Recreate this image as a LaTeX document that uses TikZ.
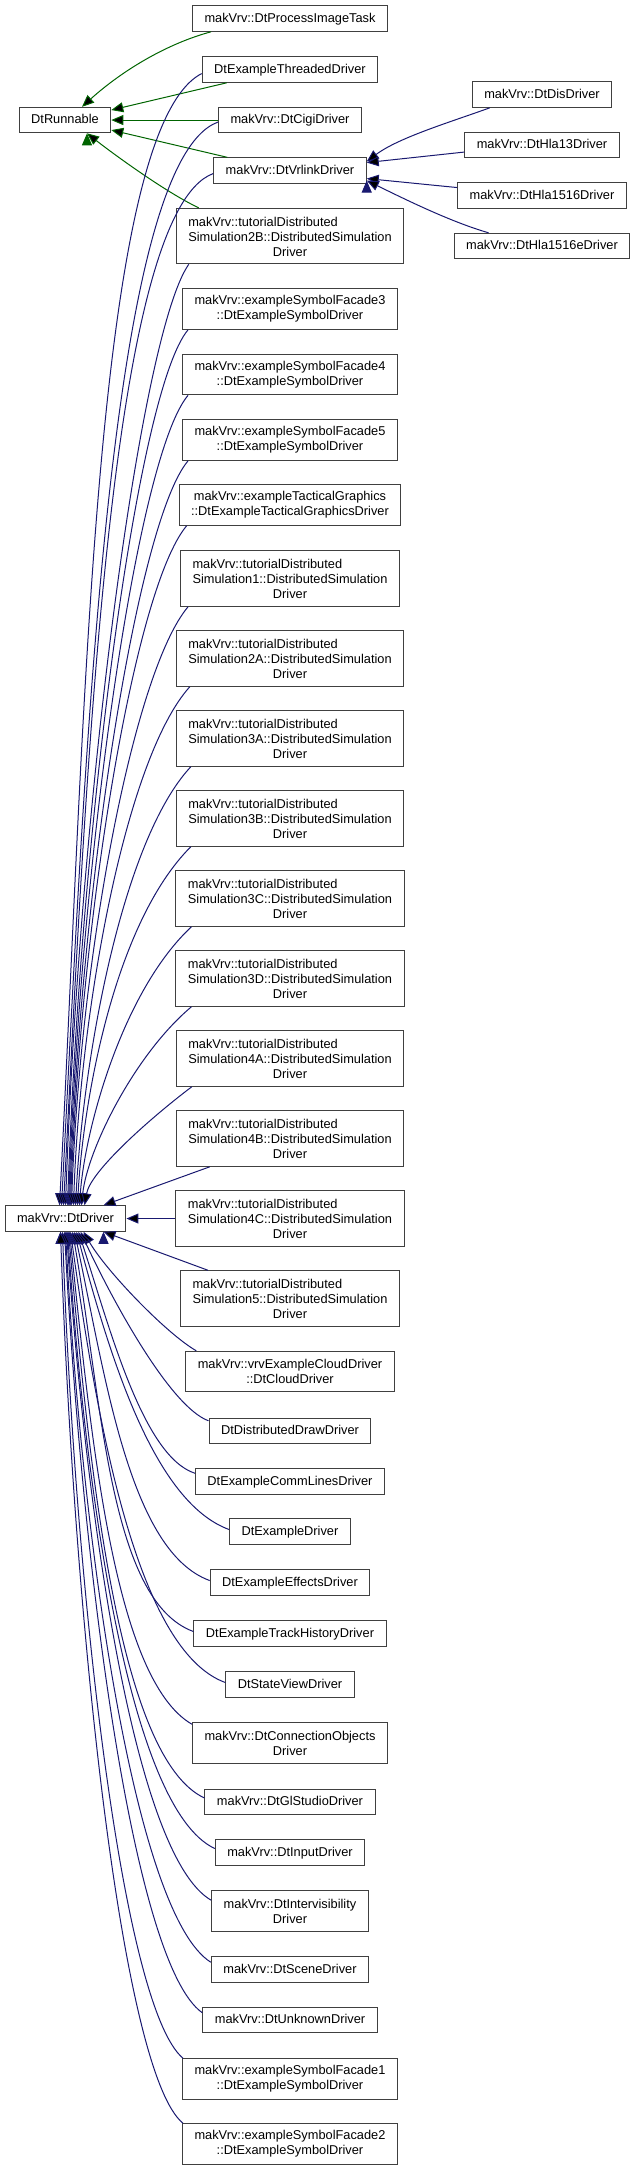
\documentclass[tikz,border=0pt]{standalone}
\usepackage{fontspec}
\setmainfont{Liberation Sans}
\usetikzlibrary{%
  arrows.meta
}
\newlength{\px}
\setlength{\px}{0.0625pt}
\definecolor{pubblue}{HTML}{191970}
\definecolor{protgreen}{HTML}{006400}
\tikzstyle{cls}=[rectangle,draw=black!75,line width=\px,fill=white,inner xsep=12\px,inner ysep=3\px,font=\fontsize{0.8pt}{0.9375pt}\selectfont]
\tikzstyle{one}=[cls,minimum height=25.5\px,text height=9.5\px,text depth=2.5\px]
\tikzstyle{two}=[cls,align=center,minimum height=40.5\px]
\tikzstyle{three}=[cls,align=center,minimum height=55.5\px]
\tikzstyle{pub}=[draw=pubblue,line width=\px,{Triangle[length=0.75pt,width=0.625pt]}-]
\tikzstyle{prot}=[draw=protgreen,line width=\px,{Triangle[length=0.75pt,width=0.625pt]}-]
\newcommand{\tutname}[1]{\begin{tabular}[b]{@{}l@{}}makVrv::tutorialDistributed\\Simulation#1::DistributedSimulation\end{tabular}\\Driver}

\begin{document}
\begin{tikzpicture}[x=\px,y=\px]
      \useasboundingbox (0,0) rectangle (632,-2169);
      % bases
      \node[one] (s_run) at (65,-120) {DtRunnable};
      \node[one] (s_drv) at (65.5,-1218.5) {makVrv::DtDriver};
      % vrlink branch
      \node[one] (s_dis) at (542,-94.5) {makVrv::DtDisDriver};
      \node[one] (s_h13) at (542,-145) {makVrv::DtHla13Driver};
      \node[one] (s_h16) at (542,-195.5) {makVrv::DtHla1516Driver};
      \node[one] (s_h16e) at (542,-246) {makVrv::DtHla1516eDriver};
      % middle column
      \node[one] (s_proc) at (290,-18.5) {makVrv::DtProcessImageTask};
      \node[one] (s_thr) at (290,-69.5) {DtExampleThreadedDriver};
      \node[one] (s_cigi) at (290,-120) {makVrv::DtCigiDriver};
      \node[one] (s_vrl) at (290,-170.5) {makVrv::DtVrlinkDriver};
      \node[three] (s_t2b) at (290,-236) {\tutname{2B}};
      \node[two] (s_f3) at (290,-309) {makVrv::exampleSymbolFacade3\\::DtExampleSymbolDriver};
      \node[two] (s_f4) at (290,-374.5) {makVrv::exampleSymbolFacade4\\::DtExampleSymbolDriver};
      \node[two] (s_f5) at (290,-440) {makVrv::exampleSymbolFacade5\\::DtExampleSymbolDriver};
      \node[two] (s_tac) at (290,-505) {makVrv::exampleTacticalGraphics\\::DtExampleTacticalGraphicsDriver};
      \node[three] (s_t1) at (290,-578.5) {\tutname{1}};
      \node[three] (s_t2a) at (290,-658.5) {\tutname{2A}};
      \node[three] (s_t3a) at (290,-738.5) {\tutname{3A}};
      \node[three] (s_t3b) at (290,-818.5) {\tutname{3B}};
      \node[three] (s_t3c) at (290,-898.5) {\tutname{3C}};
      \node[three] (s_t3d) at (290,-978.5) {\tutname{3D}};
      \node[three] (s_t4a) at (290,-1058.5) {\tutname{4A}};
      \node[three] (s_t4b) at (290,-1138.5) {\tutname{4B}};
      \node[three] (s_t4c) at (290,-1218.5) {\tutname{4C}};
      \node[three] (s_t5) at (290,-1298.5) {\tutname{5}};
      \node[two] (s_cld) at (290,-1371.5) {makVrv::vrvExampleCloudDriver\\::DtCloudDriver};
      \node[one] (s_ddr) at (290,-1431) {DtDistributedDrawDriver};
      \node[one] (s_com) at (290,-1481.5) {DtExampleCommLinesDriver};
      \node[one] (s_exd) at (290,-1531.5) {DtExampleDriver};
      \node[one] (s_eff) at (290,-1582.5) {DtExampleEffectsDriver};
      \node[one] (s_trk) at (290,-1633.5) {DtExampleTrackHistoryDriver};
      \node[one] (s_stv) at (290,-1684.5) {DtStateViewDriver};
      \node[two] (s_con) at (290,-1743) {makVrv::DtConnectionObjects\\Driver};
      \node[one] (s_gls) at (290,-1802) {makVrv::DtGlStudioDriver};
      \node[one] (s_inp) at (290,-1852.5) {makVrv::DtInputDriver};
      \node[two] (s_ivs) at (290,-1911) {makVrv::DtIntervisibility\\Driver};
      \node[one] (s_scn) at (290,-1969.5) {makVrv::DtSceneDriver};
      \node[one] (s_unk) at (290,-2020) {makVrv::DtUnknownDriver};
      \node[two] (s_f1) at (290,-2079) {makVrv::exampleSymbolFacade1\\::DtExampleSymbolDriver};
      \node[two] (s_f2) at (290,-2144) {makVrv::exampleSymbolFacade2\\::DtExampleSymbolDriver};
      % DtRunnable
      \path[prot]
        ([xshift=17\px]s_run.north) edge[out=42,in=195,out distance=55\px,in distance=45\px] ([xshift=19\px]s_proc.south west)
        ([yshift=10\px]s_run.east) edge ([xshift=25\px]s_thr.south west)
        (s_run.east) edge (s_cigi.west)
        ([yshift=-10\px]s_run.east) edge ([xshift=14\px]s_vrl.north west)
        ([xshift=22\px]s_run.south) edge[out=-38,in=155,out distance=35\px,in distance=35\px] ([xshift=23\px]s_t2b.north west);
      % DtVrlinkDriver
      \path[pub]
        ([yshift=9\px]s_vrl.east) edge[out=37,in=200,out distance=40\px,in distance=40\px] ([xshift=18\px]s_dis.south west)
        ([yshift=8\px]s_vrl.east) edge ([yshift=-7\px]s_h13.west)
        ([yshift=-8\px]s_vrl.east) edge ([yshift=8\px]s_h16.west)
        ([yshift=-10\px]s_vrl.east) edge[out=-26,in=164,out distance=40\px,in distance=40\px] ([xshift=35\px]s_h16e.north west);
      % DtDriver, from above
      \path[pub]
        ([xshift=-6\px]s_drv.north) edge[out=87,in=207,out distance=500\px,in distance=120\px] ([yshift=-4\px]s_thr.west)
        ([xshift=-4\px]s_drv.north) edge[out=87,in=200,out distance=470\px,in distance=115\px] ([yshift=-2\px]s_cigi.west)
        ([xshift=-2\px]s_drv.north) edge[out=87,in=200,out distance=440\px,in distance=110\px] ([yshift=-3\px]s_vrl.west)
        (s_drv.north) edge[out=88,in=-125,out distance=400\px,in distance=85\px] ([xshift=13\px]s_t2b.south west)
        ([xshift=2\px]s_drv.north) edge[out=88,in=-130,out distance=374\px,in distance=80\px] ([xshift=6\px]s_f3.south west)
        ([xshift=3\px]s_drv.north) edge[out=88,in=-130,out distance=345\px,in distance=80\px] ([xshift=6\px]s_f4.south west)
        ([xshift=4\px]s_drv.north) edge[out=88,in=-130,out distance=315\px,in distance=80\px] ([xshift=6\px]s_f5.south west)
        ([xshift=5\px]s_drv.north) edge[out=88,in=-130,out distance=285\px,in distance=82\px] ([xshift=8\px]s_tac.south west)
        ([xshift=6\px]s_drv.north) edge[out=88,in=-130,out distance=250\px,in distance=85\px] ([xshift=8\px]s_t1.south west)
        ([xshift=8\px]s_drv.north) edge[out=88,in=-132,out distance=200\px,in distance=95\px] ([xshift=14\px]s_t2a.south west)
        ([xshift=10\px]s_drv.north) edge[out=87,in=-133,out distance=150\px,in distance=100\px] ([xshift=15\px]s_t3a.south west)
        ([xshift=12\px]s_drv.north) edge[out=87,in=-135,out distance=100\px,in distance=110\px] ([xshift=15\px]s_t3b.south west)
        ([xshift=14\px]s_drv.north) edge[out=86,in=-137,out distance=75\px,in distance=95\px] ([xshift=16\px]s_t3c.south west)
        ([xshift=16\px]s_drv.north) edge[out=84,in=-140,out distance=55\px,in distance=75\px] ([xshift=16\px]s_t3d.south west)
        ([xshift=19\px]s_drv.north) edge[out=80,in=-143,out distance=35\px,in distance=50\px] ([xshift=16\px]s_t4a.south west)
        ([xshift=38\px]s_drv.north) edge ([xshift=34\px]s_t4b.south west)
        (s_drv.east) edge (s_t4c.west)
        ([xshift=38\px]s_drv.south) edge ([xshift=28\px]s_t5.north west);
      % DtDriver, from below
      \path[pub]
        ([xshift=18\px]s_drv.south) edge[out=-60,in=150,out distance=45\px,in distance=35\px] ([xshift=11\px]s_cld.north west)
        ([xshift=15\px]s_drv.south) edge[out=-65,in=160,out distance=80\px,in distance=40\px] ([yshift=-3\px]s_ddr.north west)
        ([xshift=13\px]s_drv.south) edge[out=-72,in=162,out distance=100\px,in distance=55\px] ([yshift=-5\px]s_com.north west)
        ([xshift=11\px]s_drv.south) edge[out=-75,in=160,out distance=130\px,in distance=80\px] ([yshift=2\px]s_exd.west)
        ([xshift=9\px]s_drv.south) edge[out=-78,in=160,out distance=150\px,in distance=85\px] ([yshift=2\px]s_eff.west)
        ([xshift=7\px]s_drv.south) edge[out=-80,in=160,out distance=170\px,in distance=90\px] ([yshift=2\px]s_trk.west)
        ([xshift=5\px]s_drv.south) edge[out=-82,in=160,out distance=190\px,in distance=95\px] ([yshift=2\px]s_stv.west)
        ([xshift=4\px]s_drv.south) edge[out=-84,in=150,out distance=210\px,in distance=90\px] ([yshift=-2\px]s_con.north west)
        ([xshift=3\px]s_drv.south) edge[out=-85,in=155,out distance=240\px,in distance=95\px] ([yshift=4\px]s_gls.west)
        ([xshift=2\px]s_drv.south) edge[out=-86,in=155,out distance=260\px,in distance=95\px] ([yshift=4\px]s_inp.west)
        ([xshift=1\px]s_drv.south) edge[out=-86,in=150,out distance=280\px,in distance=90\px] ([yshift=-10\px]s_ivs.north west)
        (s_drv.south) edge[out=-87,in=148,out distance=310\px,in distance=90\px] ([yshift=-6\px]s_scn.north west)
        ([xshift=-1\px]s_drv.south) edge[out=-87,in=145,out distance=335\px,in distance=85\px] ([yshift=-6\px]s_unk.north west)
        ([xshift=-3\px]s_drv.south) edge[out=-88,in=140,out distance=355\px,in distance=80\px] ([xshift=1\px]s_f1.north west)
        ([xshift=-5\px]s_drv.south) edge[out=-88,in=141,out distance=384\px,in distance=80\px] ([xshift=1\px]s_f2.north west);
    \end{tikzpicture}
\end{document}
